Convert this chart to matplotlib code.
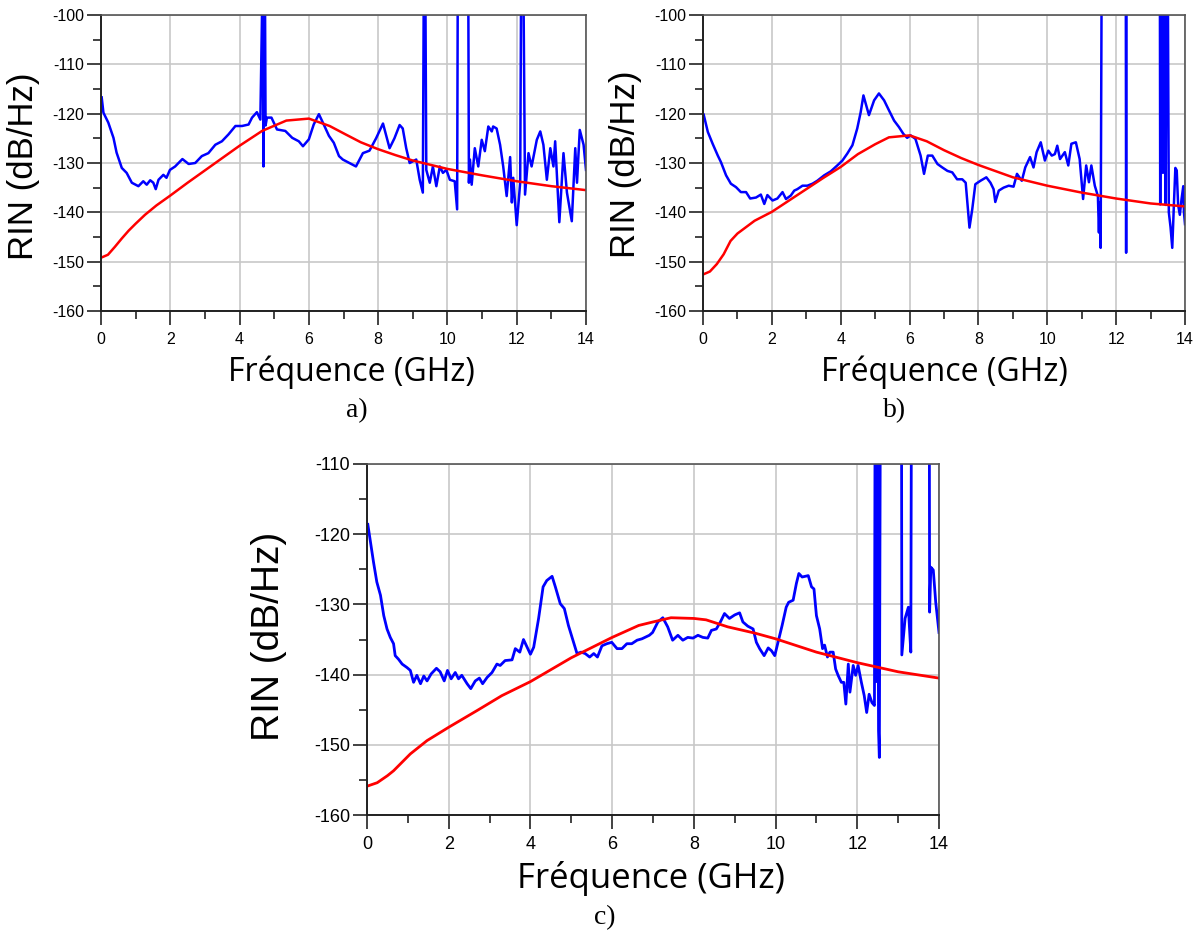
import numpy as np
import matplotlib
matplotlib.use('Agg')
import matplotlib.pyplot as plt
from matplotlib.ticker import MultipleLocator

plt.rcParams['axes.unicode_minus'] = False

# ---- a) mesure (bleu) et simulation (rouge)
freq_a_mes = [0.02, 0.07, 0.21, 0.36, 0.45, 0.60, 0.74, 0.89, 1.08, 1.22, 1.32, 1.42, 1.51, 1.58, 1.66,
              1.80, 1.89, 1.99, 2.14, 2.35, 2.53, 2.72, 2.91, 3.10, 3.30, 3.49, 3.68, 3.88, 4.07, 4.26,
              4.36, 4.50, 4.60, 4.67, 4.69, 4.71, 4.73, 4.75, 4.79, 4.92, 5.08, 5.32, 5.52, 5.71, 5.83,
              6.00, 6.14, 6.29, 6.43, 6.58, 6.72, 6.87, 6.98, 7.17, 7.36, 7.56, 7.75, 7.94, 8.14, 8.33,
              8.47, 8.62, 8.71, 8.81, 8.91, 9.10, 9.20, 9.29, 9.32, 9.36, 9.39, 9.49, 9.58, 9.68, 9.78,
              9.87, 9.97, 10.07, 10.21, 10.28, 10.30, 10.60, 10.62, 10.65, 10.70, 10.79, 10.89, 10.99,
              11.08, 11.18, 11.28, 11.32, 11.42, 11.52, 11.61, 11.71, 11.81, 11.86, 11.90, 12.00, 12.10,
              12.13, 12.19, 12.24, 12.34, 12.43, 12.58, 12.68, 12.77, 12.87, 12.97, 13.06, 13.11, 13.23,
              13.35, 13.45, 13.59, 13.69, 13.74, 13.82, 13.93, 14.00]
rin_a_mes = [-116.7, -119.8, -121.8, -124.9, -127.9, -131.0, -132.0, -134.0, -134.7, -133.7, -134.4, -133.5,
             -134.0, -135.3, -133.4, -132.4, -133.0, -131.4, -130.7, -129.2, -130.2, -130.0, -128.6, -128.0,
             -126.3, -125.6, -124.2, -122.5, -122.5, -122.2, -120.8, -119.7, -121.2, -90, -130.7, -90, -90,
             -122.4, -120.8, -120.8, -123.2, -123.5, -124.9, -125.6, -126.6, -125.2, -122.2, -120.1, -122.2,
             -124.5, -125.9, -128.6, -129.3, -130.0, -130.7, -128.0, -127.5, -125.0, -122.0, -127.0, -125.0,
             -122.3, -123.0, -127.0, -130.0, -129.3, -133.4, -136.0, -90, -90, -131.4, -134.0, -130.7, -134.7,
             -130.7, -132.0, -131.4, -133.4, -133.7, -139.4, -90, -90, -134.0, -129.3, -134.4, -127.0, -130.7,
             -125.3, -127.6, -122.6, -123.6, -122.6, -123.0, -126.3, -130.7, -136.7, -128.8, -138.0, -133.0,
             -142.6, -134.0, -90, -90, -136.4, -128.0, -130.7, -125.3, -123.6, -126.3, -133.4, -127.0, -130.7,
             -125.6, -142.0, -128.0, -136.0, -141.8, -127.0, -134.0, -123.3, -126.3, -131.4]
freq_a_sim = [0, 0.2, 0.4, 0.6, 0.8, 1.0, 1.27, 1.6, 2.0, 2.5, 3.0, 3.5, 4.0, 4.65, 5.35, 6.0, 6.6, 7.06,
              7.5, 8.0, 8.5, 9.0, 10.0, 11.0, 12.0, 13.0, 14.0]
rin_a_sim = [-149.2, -148.6, -147.0, -145.3, -143.7, -142.3, -140.5, -138.6, -136.6, -134.0, -131.5, -129.0,
             -126.5, -123.5, -121.4, -121.0, -122.5, -124.2, -125.8, -127.2, -128.4, -129.5, -131.2, -132.5,
             -133.7, -134.7, -135.5]

# ---- b)
freq_b_mes = [0.02, 0.14, 0.28, 0.43, 0.52, 0.67, 0.81, 0.96, 1.10, 1.25, 1.37, 1.54, 1.68, 1.78, 1.87,
              2.02, 2.16, 2.31, 2.41, 2.55, 2.65, 2.74, 2.89, 3.03, 3.18, 3.32, 3.52, 3.71, 3.90, 4.05,
              4.19, 4.34, 4.48, 4.58, 4.66, 4.82, 4.97, 5.11, 5.26, 5.40, 5.55, 5.69, 5.82, 5.93, 6.03,
              6.17, 6.32, 6.42, 6.53, 6.66, 6.81, 6.95, 7.10, 7.24, 7.38, 7.53, 7.63, 7.67, 7.74, 7.82,
              7.91, 8.06, 8.23, 8.35, 8.44, 8.49, 8.59, 8.73, 8.88, 9.02, 9.12, 9.26, 9.36, 9.50, 9.60,
              9.69, 9.81, 9.93, 10.03, 10.13, 10.22, 10.29, 10.37, 10.51, 10.61, 10.70, 10.83, 10.94, 11.04,
              11.13, 11.21, 11.28, 11.38, 11.47, 11.50, 11.52, 11.55, 11.58, 12.28, 12.29, 12.30, 13.27,
              13.28, 13.30, 13.34, 13.36, 13.38, 13.42, 13.44, 13.46, 13.50, 13.53, 13.58, 13.63, 13.68,
              13.72, 13.76, 13.80, 13.85, 13.90, 13.95, 13.97, 14.00]
rin_b_mes = [-120.2, -123.7, -126.1, -128.5, -129.8, -132.5, -134.2, -134.9, -135.9, -135.9, -137.2, -137.0,
             -136.4, -138.3, -136.5, -137.6, -137.2, -135.9, -137.3, -136.6, -135.6, -135.3, -134.6, -134.6,
             -134.2, -133.6, -132.5, -131.7, -130.5, -129.5, -128.1, -126.4, -123.0, -119.7, -116.3, -120.3,
             -117.3, -115.9, -117.3, -119.3, -121.4, -122.7, -124.1, -124.9, -124.4, -125.1, -128.5, -132.2,
             -128.5, -128.5, -130.2, -130.9, -131.6, -131.9, -133.3, -133.3, -134.0, -137.3, -143.1, -139.4,
             -134.3, -133.6, -132.9, -134.0, -135.3, -137.9, -135.6, -135.0, -134.6, -134.8, -132.2, -133.6,
             -130.9, -128.8, -130.9, -127.8, -125.8, -129.5, -127.5, -128.5, -128.2, -126.5, -129.2, -127.8,
             -130.5, -126.1, -125.8, -129.2, -137.3, -130.5, -133.9, -130.5, -134.6, -136.7, -144.1, -138.0,
             -147.2, -90, -90, -148.2, -90, -90, -138.4, -90, -90, -132.0, -90, -90, -138.5, -90, -90,
             -140.0, -143.0, -147.2, -138.0, -131.0, -131.5, -138.5, -140.5, -137.3, -134.7, -140.0, -142.4]
freq_b_sim = [0, 0.2, 0.4, 0.6, 0.8, 1.0, 1.5, 2.0, 2.5, 3.0, 3.5, 4.0, 4.5, 5.0, 5.4, 6.0, 6.5, 7.0,
              7.5, 8.0, 9.0, 10.0, 11.0, 12.0, 13.0, 14.0]
rin_b_sim = [-152.6, -152.0, -150.5, -148.5, -145.8, -144.3, -141.7, -139.9, -137.6, -135.3, -133.0, -130.8,
             -128.2, -126.2, -124.8, -124.4, -125.6, -127.4, -129.0, -130.4, -132.9, -134.6, -136.0, -137.2,
             -138.2, -138.8]

# ---- c)
freq_c_mes = [0.02, 0.08, 0.16, 0.24, 0.33, 0.41, 0.49, 0.57, 0.65, 0.69, 0.77, 0.86, 0.98, 1.06, 1.14,
              1.22, 1.31, 1.39, 1.47, 1.57, 1.70, 1.79, 1.89, 1.97, 2.06, 2.16, 2.24, 2.32, 2.45, 2.54,
              2.65, 2.75, 2.83, 2.94, 3.06, 3.18, 3.26, 3.38, 3.55, 3.63, 3.74, 3.83, 3.92, 4.00, 4.08,
              4.20, 4.31, 4.40, 4.53, 4.61, 4.73, 4.83, 4.93, 5.02, 5.14, 5.24, 5.34, 5.45, 5.55, 5.64,
              5.75, 5.87, 5.99, 6.12, 6.24, 6.36, 6.48, 6.61, 6.73, 6.91, 6.99, 7.12, 7.24, 7.36, 7.48,
              7.61, 7.73, 7.85, 7.98, 8.10, 8.22, 8.34, 8.43, 8.55, 8.65, 8.75, 8.87, 9.00, 9.12, 9.20,
              9.32, 9.45, 9.53, 9.61, 9.72, 9.82, 9.90, 9.98, 10.06, 10.16, 10.26, 10.32, 10.43, 10.51,
              10.57, 10.65, 10.73, 10.80, 10.88, 10.94, 11.00, 11.08, 11.15, 11.20, 11.27, 11.33, 11.41,
              11.47, 11.53, 11.61, 11.67, 11.72, 11.78, 11.82, 11.90, 11.96, 12.02, 12.10, 12.17, 12.23,
              12.29, 12.36, 12.42, 12.44, 12.47, 12.49, 12.52, 12.54, 12.57, 13.08, 13.09, 13.17, 13.25,
              13.31, 13.33, 13.76, 13.77, 13.80, 13.86, 13.92, 14.00]
rin_c_mes = [-118.6, -120.9, -124.0, -126.8, -128.7, -131.6, -133.5, -134.7, -135.6, -137.3, -137.8, -138.5,
             -139.0, -139.4, -141.1, -140.1, -141.3, -140.2, -140.9, -139.9, -139.1, -139.6, -140.9, -139.4,
             -140.6, -139.7, -140.6, -140.1, -141.3, -142.0, -140.9, -140.5, -141.3, -140.4, -139.7, -138.5,
             -138.7, -138.0, -137.9, -136.3, -136.8, -135.0, -136.1, -137.1, -136.1, -132.0, -127.5, -126.6,
             -126.0, -127.5, -129.9, -130.6, -133.0, -134.7, -137.0, -136.8, -137.0, -137.5, -137.0, -137.5,
             -135.9, -135.6, -135.4, -136.3, -136.3, -135.6, -135.6, -135.1, -134.9, -134.4, -134.0, -132.5,
             -131.9, -133.2, -135.1, -134.4, -135.1, -134.7, -134.8, -134.4, -134.7, -134.8, -133.7, -133.5,
             -132.5, -131.3, -132.0, -131.5, -131.2, -132.5, -133.1, -133.5, -135.4, -136.3, -137.3, -136.2,
             -136.6, -137.3, -135.4, -133.0, -130.4, -129.7, -129.4, -127.0, -125.6, -126.1, -126.0, -125.9,
             -127.5, -127.8, -131.6, -133.5, -136.3, -135.8, -137.5, -136.8, -136.8, -139.2, -140.1, -141.1,
             -141.1, -144.2, -138.5, -142.5, -138.7, -140.1, -138.7, -141.1, -143.0, -145.4, -142.8, -144.0,
             -144.4, -90, -141.0, -90, -148.0, -151.8, -90, -90, -137.2, -132.0, -130.4, -136.8, -90, -90,
             -131.1, -124.7, -125.1, -129.7, -134.0]
freq_c_sim = [0, 0.25, 0.5, 0.65, 1.06, 1.47, 2.0, 2.7, 3.3, 4.0, 5.0, 6.0, 6.65, 7.0, 7.44, 8.0, 8.3,
              8.83, 9.5, 10.0, 11.0, 12.0, 13.0, 14.0]
rin_c_sim = [-155.9, -155.4, -154.4, -153.7, -151.3, -149.4, -147.5, -145.1, -143.0, -141.0, -137.6, -134.7,
             -133.0, -132.5, -131.9, -132.0, -132.2, -133.2, -134.1, -134.9, -136.8, -138.3, -139.6, -140.5]

W, H = 1198, 934
fig = plt.figure(figsize=(W / 100, H / 100), dpi=100)


def panel(px_left, px_top, px_right, px_bottom, f_mes, r_mes, f_sim, r_sim, ymin, ymax, tsize, lw):
    ax = fig.add_axes([px_left / W, 1 - px_bottom / H, (px_right - px_left) / W, (px_bottom - px_top) / H])
    ax.plot(f_mes, r_mes, color='#0000ff', lw=lw)
    ax.plot(f_sim, r_sim, color='#ff0000', lw=lw)
    ax.set_xlim(0, 14)
    ax.set_ylim(ymin, ymax)
    ax.xaxis.set_major_locator(MultipleLocator(2))
    ax.xaxis.set_minor_locator(MultipleLocator(1))
    ax.yaxis.set_major_locator(MultipleLocator(10))
    ax.yaxis.set_minor_locator(MultipleLocator(5))
    ax.grid(True, which='major', color='#c8c8c8', lw=1.2)
    ax.set_axisbelow(True)
    ax.tick_params(which='major', direction='out', length=10, width=1.2, labelsize=tsize, color='#222222')
    ax.tick_params(which='minor', direction='out', length=5.5, width=1.2, color='#222222')
    ax.tick_params(axis='x', which='major', pad=5)
    ax.tick_params(axis='y', which='major', pad=2)
    for s in ['left', 'bottom']:
        ax.spines[s].set_color('#202020')
        ax.spines[s].set_linewidth(1.4)
    for s in ['top', 'right']:
        ax.spines[s].set_color('#555555')
        ax.spines[s].set_linewidth(1.2)
    for lab in ax.get_xticklabels() + ax.get_yticklabels():
        lab.set_family('Liberation Sans')
    return ax


panel(101, 15, 586, 311, freq_a_mes, rin_a_mes, freq_a_sim, rin_a_sim, -160, -100, 11.5, 1.8)
panel(703, 15, 1185, 311, freq_b_mes, rin_b_mes, freq_b_sim, rin_b_sim, -160, -100, 11.5, 1.8)
panel(367, 464, 939, 815, freq_c_mes, rin_c_mes, freq_c_sim, rin_c_sim, -160, -110, 13, 2.0)

# axis titles and captions
for x, y, fs in [(24, 166, 25), (626, 164, 25), (269, 636, 28)]:
    fig.text(x / W, 1 - y / H, 'RIN (dB/Hz)', rotation=90, ha='center', va='center',
             fontsize=fs, family='Liberation Sans')
for x, y, fs in [(351, 372, 23), (944, 372, 23), (651, 879, 25)]:
    fig.text(x / W, 1 - y / H, 'Fréquence (GHz)', ha='center', va='center', fontsize=fs, family='Open Sans')
for x, y, txt in [(357, 411, 'a)'), (895, 411, 'b)'), (605, 918, 'c)')]:
    fig.text(x / W, 1 - y / H, txt, ha='center', va='center', fontsize=20, family='Liberation Serif')

fig.savefig('out.png', dpi=100)
